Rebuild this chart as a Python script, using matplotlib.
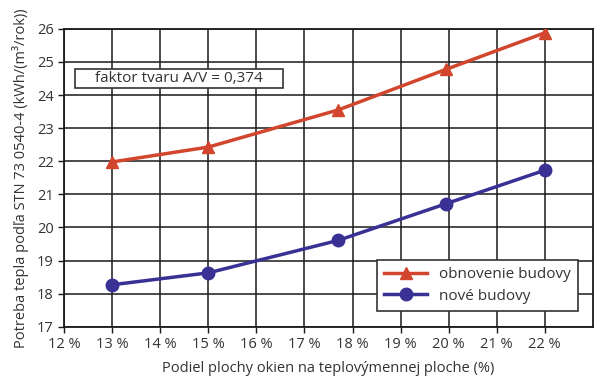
import matplotlib
matplotlib.use('Agg')
import matplotlib.pyplot as plt
from matplotlib.patches import Rectangle
from matplotlib.ticker import FuncFormatter

plt.rcParams['font.family'] = ['Open Sans', 'DejaVu Sans']

# Data
podiel = [13.0, 15.0, 17.7, 19.95, 22.0]
obnovenie = [21.98, 22.43, 23.55, 24.78, 25.88]
nove = [18.27, 18.63, 19.61, 20.72, 21.73]

red = '#d2462e'
blue = '#3a3194'

fig = plt.figure(figsize=(6, 3.8), dpi=100)
ax = fig.add_axes([0.107, 0.14, 0.881, 0.784])

ax.plot(podiel, obnovenie, color=red, lw=2.5, marker='^', ms=9,
        label='obnovenie budovy', zorder=3)
ax.plot(podiel, nove, color=blue, lw=2.5, marker='o', ms=9,
        label='nové budovy', zorder=3)

ax.set_xlim(12, 23)
ax.set_ylim(17, 26)
ax.set_xticks(range(12, 23))
ax.set_yticks(range(17, 27))
ax.xaxis.set_major_formatter(FuncFormatter(lambda v, p: f'{int(v)} %'))
ax.grid(True, color='#1a1a1a', lw=1.1)
ax.set_axisbelow(True)
for s in ax.spines.values():
    s.set_color('#1a1a1a')
    s.set_linewidth(1.3)
ax.tick_params(direction='out', length=4, width=1, colors='#1a1a1a',
               labelsize=10.5, labelcolor='#333333')

ax.set_xlabel('Podiel plochy okien na teplovýmennej ploche (%)',
              fontsize=10.5, color='#333333', labelpad=6)
ax.set_ylabel('Potreba tepla podľa STN 73 0540-4 (kWh/(m³/rok))',
              fontsize=10.5, color='#333333', labelpad=6)

# annotation box
ax.add_patch(Rectangle((0.021, 0.802), 0.393, 0.064, transform=ax.transAxes,
                       fc='white', ec='#333333', lw=1.2, zorder=4))
ax.text(0.2175, 0.834, 'faktor tvaru A/V = 0,374', transform=ax.transAxes,
        fontsize=11, color='#333333', va='center', ha='center', zorder=5)

leg = ax.legend(loc='lower right', bbox_to_anchor=(0.972, 0.054),
                borderaxespad=0, fontsize=11, frameon=True, fancybox=False,
                edgecolor='#333333', framealpha=1, handlelength=2.8,
                borderpad=0.45, labelspacing=0.45)
leg.get_frame().set_linewidth(1.2)
for t in leg.get_texts():
    t.set_color('#333333')

fig.savefig('out.png', dpi=100)
